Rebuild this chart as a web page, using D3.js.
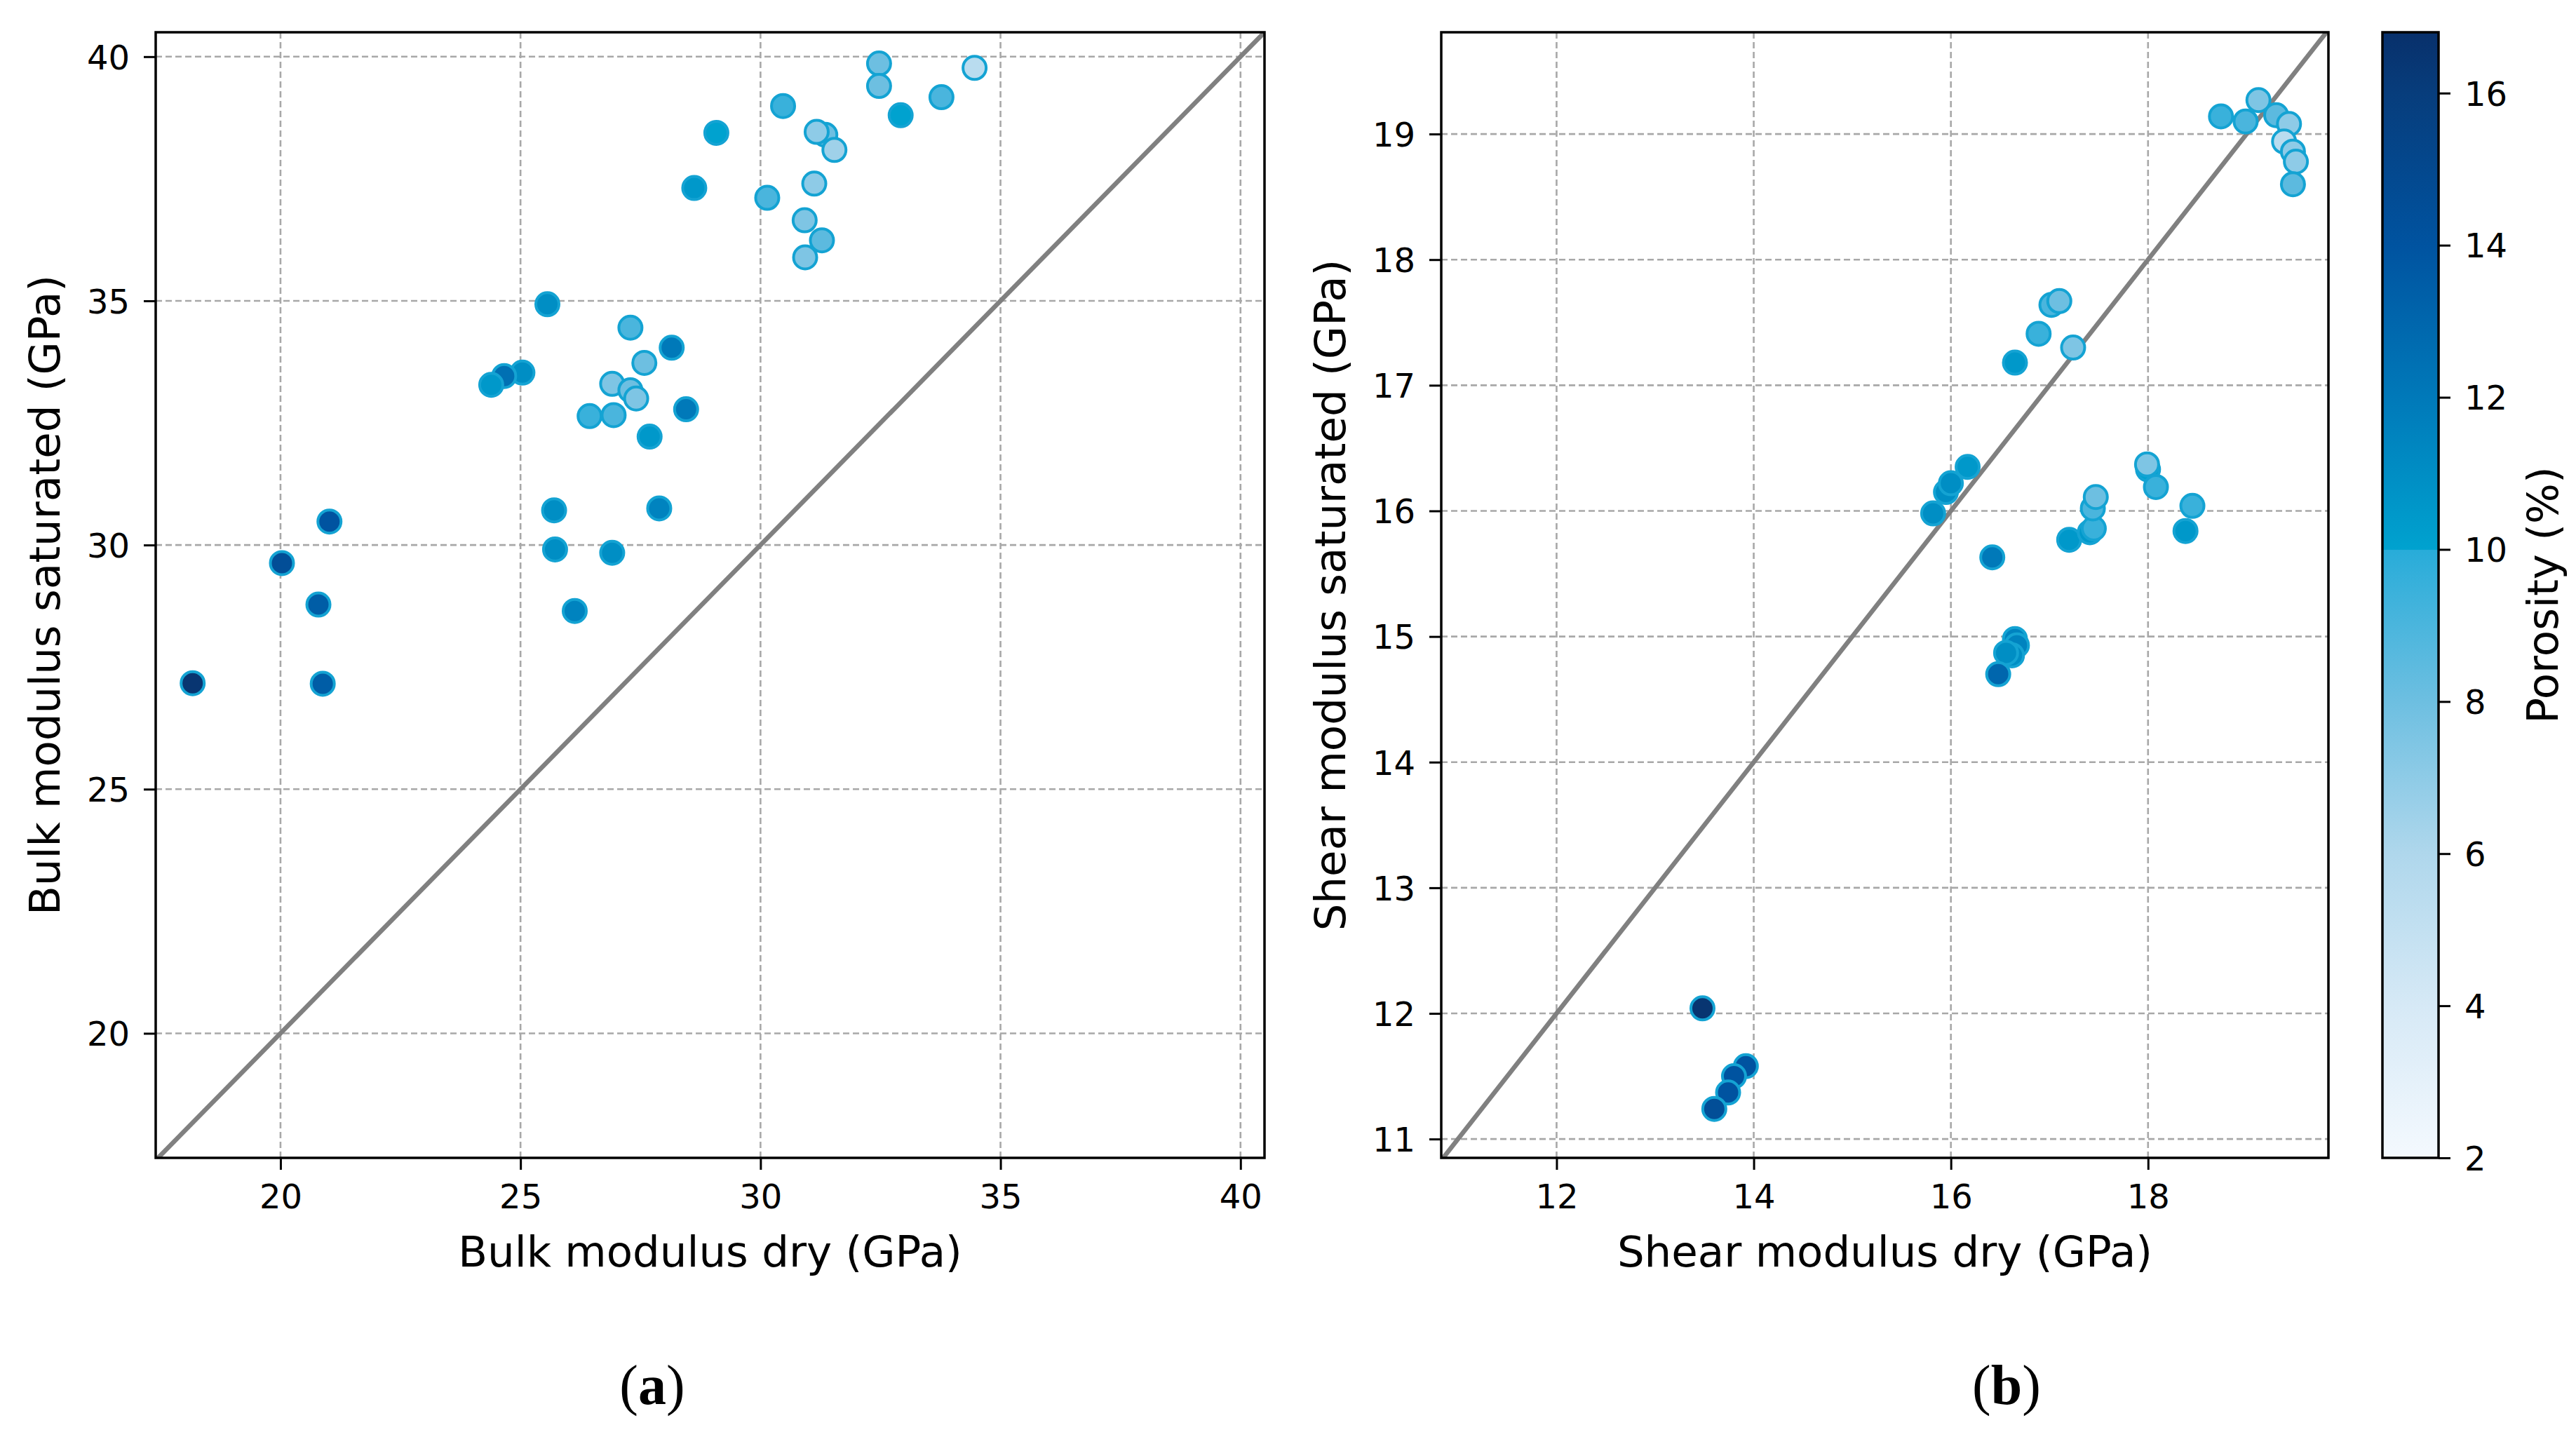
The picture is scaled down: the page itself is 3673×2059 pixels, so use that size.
<!DOCTYPE html>
<html><head><meta charset="utf-8">
<script src="https://cdn.jsdelivr.net/npm/d3@7"></script>
<style>
html,body{margin:0;padding:0;background:#fff;}
</style></head>
<body>
<svg id="chart" width="3673" height="2059"></svg>
<script>
// ---------- DATA ----------
const bulkDry = [32.47,34.46,32.47,33.77,30.47,32.92,29.08,31.35,31.17,31.54,28.62,31.12,30.14,30.92,31.28,30.93,25.56,27.29,28.15,27.58,25.04,24.66,24.39,26.91,27.29,27.41,28.45,26.44,26.94,27.69,25.70,27.89,21.02,20.03,25.72,26.91,20.79,26.13,18.17,20.88];
const bulkSat = [39.86,39.77,39.40,39.17,38.99,38.80,38.44,38.40,38.46,38.09,37.31,37.40,37.11,36.65,36.24,35.89,34.93,34.45,34.04,33.73,33.53,33.46,33.28,33.30,33.17,33.00,32.78,32.64,32.66,32.22,30.71,30.75,30.48,29.63,29.91,29.84,28.78,28.65,27.17,27.16];
const bulkPor = [8,5.5,8,9,9.5,10,10,8,7,6.5,10.5,7,9,7.5,8.5,7.5,11,9,12,8,11,12.5,10.5,7.5,8,7.5,12,9.5,9,10.5,11,11.5,14,14.5,11,11,13.5,11.5,16.5,13.5];

const shearDry = [18.74,18.99,19.12,19.30,19.43,19.38,19.47,19.50,19.47,17.02,17.10,16.89,17.24,16.65,15.82,15.95,16.00,16.17,16.42,17.20,17.41,17.45,17.44,17.47,18.00,17.99,18.08,18.45,18.38,16.65,16.67,16.62,16.56,16.48,13.48,13.92,13.80,13.74,13.60];
const shearSat = [19.14,19.10,19.27,19.15,19.08,18.94,18.86,18.78,18.60,17.64,17.67,17.41,17.30,17.18,15.98,16.15,16.22,16.35,15.63,15.77,15.83,15.86,16.02,16.11,16.33,16.37,16.19,16.04,15.84,14.98,14.93,14.85,14.87,14.70,12.04,11.58,11.50,11.37,11.24];
const shearPor = [9.5,9,7.5,8.5,7,5.5,7,7,8.5,9,8,9.5,7.5,10.5,11,11,11,10.5,12,10.5,10.5,9.5,9,8,10,7.5,9.5,9.5,10.5,11.5,11.5,11,11,13,16.5,14,14,14,14.5];

const bulkTicks = [20,25,30,35,40];
const shearTicks = [11,12,13,14,15,16,17,18,19];
const shearXTicks = [12,14,16,18];
const porTicks = [2,4,6,8,10,12,14,16];
const porDomain = [2,16.8];
const cmapStops = [2,4,6,8,9.99,10,12,14,16,16.8];
const cmapColors = ["#f4f9fe","#d6e9f6","#afd7ec","#6dbfe1","#28acd9","#00a2cf","#0079b9","#0053a0","#073d7c","#08306b"];

// ---------- SETUP ----------
const svg = d3.select("#chart");
svg.append("rect").attr("width",3673).attr("height",2059).attr("fill","#fff");
const color = d3.scaleLinear().domain(cmapStops).range(cmapColors).interpolate(d3.interpolateRgb).clamp(true);

const SANS = "'DejaVu Sans', sans-serif";
const tickFont = 48, labelFont = 61;

function panel(opts){
  const {x0,x1,y0,y1,xd,yd,xt,yt,xs,ys,cs,xlab,ylab} = opts;
  const x = d3.scaleLinear().domain(xd).range([x0,x1]);
  const y = d3.scaleLinear().domain(yd).range([y1,y0]);
  const g = svg.append("g");
  const clipId = "clip"+Math.round(x0);
  g.append("clipPath").attr("id",clipId).append("rect")
    .attr("x",x0).attr("y",y0).attr("width",x1-x0).attr("height",y1-y0);
  // grid
  const grid = g.append("g").attr("stroke","#a8a8a8").attr("stroke-width",2.6).attr("stroke-dasharray","9,5");
  grid.selectAll(".gx").data(xt).join("line")
    .attr("x1",d=>x(d)).attr("x2",d=>x(d)).attr("y1",y0).attr("y2",y1);
  grid.selectAll(".gy").data(yt).join("line")
    .attr("y1",d=>y(d)).attr("y2",d=>y(d)).attr("x1",x0).attr("x2",x1);
  // diagonal 1:1
  const lo = Math.min(xd[0],yd[0]), hi = Math.max(xd[1],yd[1]);
  g.append("line").attr("clip-path",`url(#${clipId})`)
    .attr("x1",x(lo)).attr("y1",y(lo)).attr("x2",x(hi)).attr("y2",y(hi))
    .attr("stroke","#808080").attr("stroke-width",6.5);
  // points
  const pts = xs.map((v,i)=>({x:v,y:ys[i],c:cs[i]}));
  g.append("g").attr("clip-path",`url(#${clipId})`).selectAll("circle").data(pts).join("circle")
    .attr("cx",d=>x(d.x)).attr("cy",d=>y(d.y)).attr("r",16.5)
    .attr("fill",d=>color(d.c)).attr("stroke","#14a3d3").attr("stroke-width",4);
  // axes
  const ax = g.append("g").attr("transform",`translate(0,${y1})`)
    .call(d3.axisBottom(x).tickValues(xt).tickFormat(d3.format("d")).tickSize(17).tickPadding(20));
  const ay = g.append("g").attr("transform",`translate(${x0},0)`)
    .call(d3.axisLeft(y).tickValues(yt).tickFormat(d3.format("d")).tickSize(17).tickPadding(20));
  [ax,ay].forEach(a=>{
    a.select(".domain").remove();
    a.selectAll(".tick line").attr("stroke","#000").attr("stroke-width",3);
    a.selectAll(".tick text").attr("font-size",tickFont).attr("fill","#000").style("font-family",SANS);
  });
  ax.selectAll(".tick text").attr("dy","0.72em");
  ay.selectAll(".tick text").attr("dy","0.36em");
  // frame
  g.append("rect").attr("x",x0).attr("y",y0).attr("width",x1-x0).attr("height",y1-y0)
    .attr("fill","none").attr("stroke","#000").attr("stroke-width",3.5);
  // labels
  g.append("text").attr("x",(x0+x1)/2).attr("y",1806).attr("text-anchor","middle")
    .style("font-family",SANS).attr("font-size",labelFont).attr("fill","#000").text(xlab);
  g.append("text").attr("transform",`translate(${x0-137},${(y0+y1)/2}) rotate(-90)`)
    .attr("text-anchor","middle").style("font-family",SANS).attr("font-size",labelFont).attr("fill","#000").text(ylab);
}

panel({x0:222,x1:1803,y0:46,y1:1651,xd:[17.4,40.5],yd:[17.45,40.5],xt:bulkTicks,yt:bulkTicks,
  xs:bulkDry,ys:bulkSat,cs:bulkPor,xlab:"Bulk modulus dry (GPa)",ylab:"Bulk modulus saturated (GPa)"});
panel({x0:2055,x1:3320,y0:46,y1:1651,xd:[10.83,19.83],yd:[10.85,19.81],xt:shearXTicks,yt:shearTicks,
  xs:shearDry,ys:shearSat,cs:shearPor,xlab:"Shear modulus dry (GPa)",ylab:"Shear modulus saturated (GPa)"});

// ---------- COLORBAR ----------
const cbX0 = 3397, cbX1 = 3477, cbY0 = 46, cbY1 = 1651;
const cy = d3.scaleLinear().domain(porDomain).range([cbY1,cbY0]);
const defs = svg.append("defs");
const grad = defs.append("linearGradient").attr("id","cbgrad").attr("x1",0).attr("y1",1).attr("x2",0).attr("y2",0);
cmapStops.forEach((s,i)=>{
  grad.append("stop").attr("offset",(s-porDomain[0])/(porDomain[1]-porDomain[0])).attr("stop-color",cmapColors[i]);
});
svg.append("rect").attr("x",cbX0).attr("y",cbY0).attr("width",cbX1-cbX0).attr("height",cbY1-cbY0)
  .attr("fill","url(#cbgrad)").attr("stroke","#000").attr("stroke-width",3.5);
const cax = svg.append("g").attr("transform",`translate(${cbX1},0)`)
  .call(d3.axisRight(cy).tickValues(porTicks).tickFormat(d3.format("d")).tickSize(17).tickPadding(20));
cax.select(".domain").remove();
cax.selectAll(".tick line").attr("stroke","#000").attr("stroke-width",3);
cax.selectAll(".tick text").attr("font-size",tickFont).attr("fill","#000").attr("dy","0.36em").style("font-family",SANS);
svg.append("text").attr("transform",`translate(${3647},${(cbY0+cbY1)/2}) rotate(-90)`)
  .attr("text-anchor","middle").style("font-family",SANS).attr("font-size",labelFont).attr("fill","#000").text("Porosity (%)");

// ---------- PANEL LETTERS ----------
const letters = [{t:"a",x:930},{t:"b",x:2861}];
letters.forEach(L=>{
  const t = svg.append("text").attr("x",L.x).attr("y",2002).attr("text-anchor","middle")
    .style("font-family","'Liberation Serif', serif").attr("font-size",80).attr("fill","#000");
  t.append("tspan").text("(");
  t.append("tspan").attr("font-weight","bold").text(L.t);
  t.append("tspan").text(")");
});
</script>
</body></html>
